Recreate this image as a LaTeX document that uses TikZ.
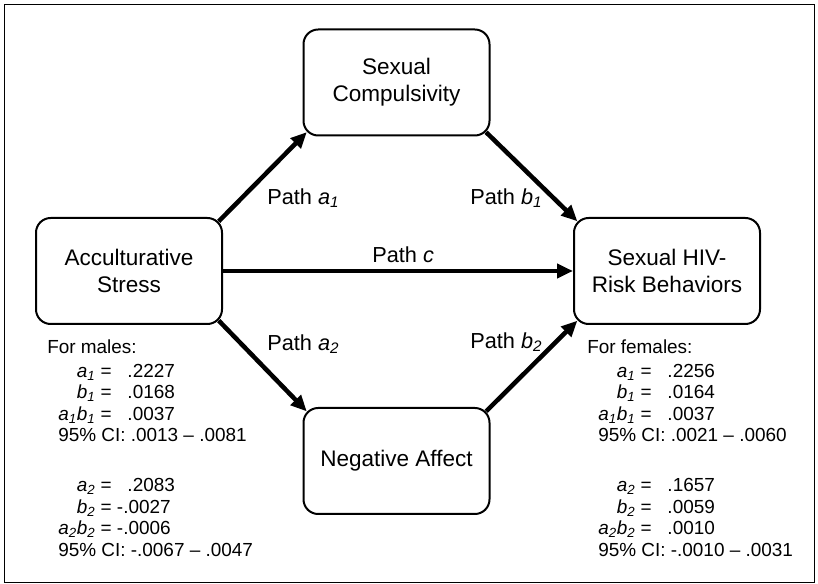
\documentclass[tikz,border=0pt]{standalone}
\usepackage{fontspec}
\setmainfont{Liberation Sans}
\usetikzlibrary{arrows.meta}
\newcommand\pvar[2]{\textit{#1}\textsubscript{\textit{#2}}}
\begin{document}
\begin{tikzpicture}[x=0.75pt,y=-0.75pt,box/.style={draw,line width=1.5pt,rounded corners=11pt,minimum width=139.5pt,minimum height=79.5pt,align=center,font=\fontsize{16.9}{20.2}\selectfont},arr/.style={line width=3.4pt,-{Triangle[length=12pt,width=10.5pt]}},diag/.style={arr,shorten <=-4.6pt,shorten >=-4.6pt},lbl/.style={anchor=west,inner sep=0pt,font=\fontsize{16.3}{20}\selectfont},stats/.style={anchor=north west,inner sep=0pt,font=\fontsize{14.2}{16.1}\selectfont}]
	\useasboundingbox (0,0) rectangle (818,584);
	\draw[line width=1pt] (4.5,4.5) rectangle (814.5,582.5);
	\node[box] (sc) at (396.5,82.5) {Sexual\\Compulsivity};
	\node[box] (acc) at (129,271) {Acculturative\\Stress};
	\node[box] (hiv) at (667,271) {Sexual HIV-\\Risk Behaviors};
	\node[box] (na) at (396.5,461) {Negative Affect};
	\draw[diag] (acc.north east) -- (sc.south west);
	\draw[diag] (sc.south east) -- (hiv.north west);
	\draw[arr] (acc) -- (hiv);
	\draw[diag] (acc.south east) -- (na.north west);
	\draw[diag] (na.north east) -- (hiv.south west);
	\node[lbl] (pa1) at (267,198) {Path \pvar{a}{1}};
	\node[lbl] (pb1) at (470,198) {Path \pvar{b}{1}};
	\node[lbl] (pc) at (372,255) {Path \textit{c}};
	\node[lbl] (pa2) at (267,344) {Path \pvar{a}{2}};
	\node[lbl] (pb2) at (470,342) {Path \pvar{b}{2}};
	\node[stats,anchor=base west] (males) at (47,354) {For males:};
	\node[stats] (mvals) at (58,362) {\begin{tabular}{@{}r@{\ }l@{}}
		\pvar{a}{1} & = \ \ .2227\\
		\pvar{b}{1} & = \ \ .0168\\
		\pvar{a}{1}\pvar{b}{1} & = \ \ .0037\\
		\multicolumn{2}{@{}l@{}}{95\% CI: .0013 – .0081}\\[21.4pt]
		\pvar{a}{2} & = \ \ .2083\\
		\pvar{b}{2} & = -.0027\\
		\pvar{a}{2}\pvar{b}{2} & = -.0006\\
		\multicolumn{2}{@{}l@{}}{95\% CI: -.0067 – .0047}
	\end{tabular}};
	\node[stats,anchor=base west] (females) at (587,354) {For females:};
	\node[stats] (fvals) at (598,362) {\begin{tabular}{@{}r@{\ }l@{}}
		\pvar{a}{1} & = \ \ .2256\\
		\pvar{b}{1} & = \ \ .0164\\
		\pvar{a}{1}\pvar{b}{1} & = \ \ .0037\\
		\multicolumn{2}{@{}l@{}}{95\% CI: .0021 – .0060}\\[21.4pt]
		\pvar{a}{2} & = \ \ .1657\\
		\pvar{b}{2} & = \ \ .0059\\
		\pvar{a}{2}\pvar{b}{2} & = \ \ .0010\\
		\multicolumn{2}{@{}l@{}}{95\% CI: -.0010 – .0031}
	\end{tabular}};
\end{tikzpicture}
\end{document}
